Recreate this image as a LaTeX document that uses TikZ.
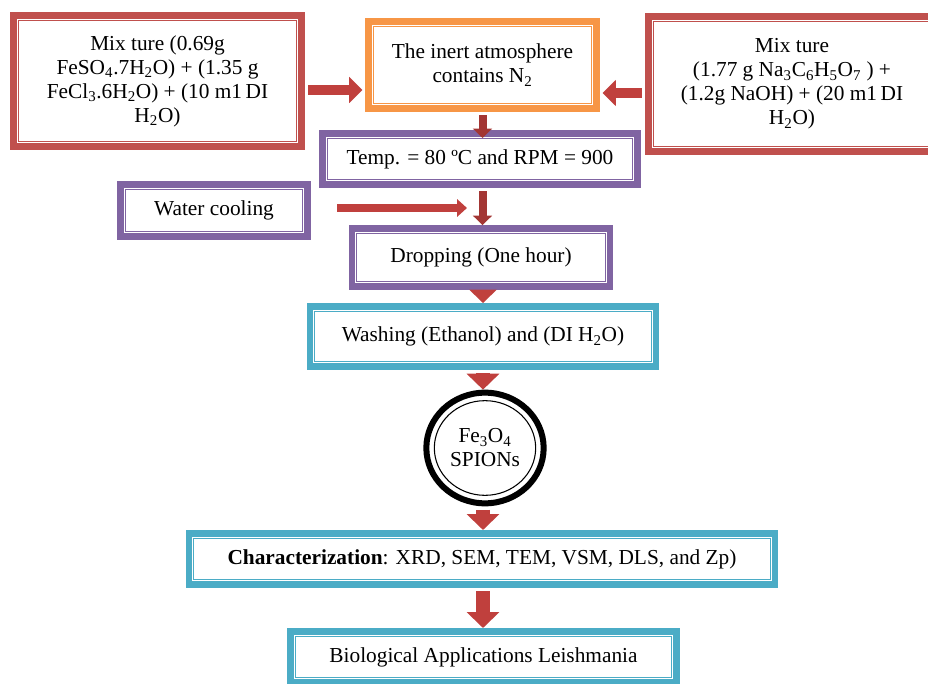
\documentclass[tikz,border=0pt]{standalone}
\usepackage{fontspec}
\setmainfont{Liberation Serif}
\usepackage{tikz}
\usetikzlibrary{
  shapes.geometric,
  arrows.meta,
  positioning,
  calc
}
\usepackage{xcolor}
\definecolor{boxred}{HTML}{C0504D}
\definecolor{boxorange}{HTML}{F79646}
\definecolor{boxpurple}{HTML}{8064A2}
\definecolor{boxblue}{HTML}{4BACC6}
\definecolor{arrowred}{HTML}{C0403D}
\newcommand{\chsub}[1]{\textsubscript{#1}}

\begin{document}
\begin{tikzpicture}[
    x=0.75pt, y=-0.75pt,
    font=\fontsize{16}{18}\selectfont,
    panel/.style={rectangle, draw=#1, line width=5pt, fill=white, align=center,
                  inner sep=2pt,
                  path picture={\draw[#1, line width=0.8pt]
                    ([shift={(3.6pt,-3.6pt)}]path picture bounding box.north west) rectangle
                    ([shift={(-3.6pt,3.6pt)}]path picture bounding box.south east);}},
    ring/.style={ellipse, draw=black, line width=4.5pt, fill=white, align=center,
                 inner sep=0pt, minimum width=88pt, minimum height=83pt,
                 path picture={\draw[black, line width=0.8pt]
                    (path picture bounding box.center) ellipse [x radius=38pt, y radius=35.5pt];}},
    side/.style={draw=arrowred, line width=7.5pt, -{Triangle[width=19pt, length=10pt]},
                 shorten <=2.5pt, shorten >=2pt},
    cool/.style={draw=arrowred, line width=6pt, -{Triangle[width=13pt, length=7.5pt]}},
    thin/.style={draw=arrowred!85!black, line width=6pt, -{Triangle[width=14pt, length=7pt]},
                 shorten <=2.5pt},
    mid/.style={draw=arrowred, line width=9pt, -{Triangle[width=20pt, length=10pt]},
                shorten <=2.5pt},
    big/.style={draw=arrowred, line width=11pt, -{Triangle[width=24pt, length=12pt]},
                shorten <=2.5pt},
  ]
    \useasboundingbox (0,0) rectangle (928,684);

    %% ── Top row: inputs ──────────────────────────────────────
    \node[panel=boxred, minimum width=216pt, minimum height=98.5pt] (mixL) at (157.5,81)
      {Mix ture (0.69g\\ FeSO\chsub{4}.7H\chsub{2}O) + (1.35 g\\
       FeCl\chsub{3}.6H\chsub{2}O) + (10 m1\,DI\\ H\chsub{2}O)};
    \node[panel=boxorange, minimum width=171pt, minimum height=65.5pt] (inert) at (482.5,65)
      {The inert atmosphere\\ contains N\chsub{2}};
    \node[panel=boxred, minimum width=215.5pt, minimum height=101.5pt] (mixR) at (792,84)
      {Mix ture\\ (1.77 g Na\chsub{3}C\chsub{6}H\chsub{5}O\chsub{7} ) +\\
       (1.2g NaOH) + (20 m1\,DI\\ H\chsub{2}O)};

    %% ── Synthesis steps ──────────────────────────────────────
    \node[panel=boxpurple, minimum width=236.5pt, minimum height=38.5pt] (temp) at (480,159)
      {Temp. = 80 ºC and RPM = 900};
    \node[panel=boxpurple, minimum width=140.5pt, minimum height=39.3pt] (water) at (214,210.5)
      {Water cooling};
    \node[panel=boxpurple, minimum width=193.7pt, minimum height=43.7pt] (drop) at (481,257.5)
      {Dropping (One hour)};
    \node[panel=boxblue, minimum width=259.7pt, minimum height=45.2pt] (wash) at (483,336.5)
      {Washing (Ethanol) and (DI H\chsub{2}O)};
    \node[ring] (spion) at (485,448) {Fe\chsub{3}O\chsub{4}\\ SPIONs};

    %% ── Analysis ─────────────────────────────────────────────
    \node[panel=boxblue, minimum width=439.7pt, minimum height=38.5pt] (char) at (482,559)
      {\textbf{Characterization}: XRD, SEM, TEM, VSM, DLS, and Zp)};
    \node[panel=boxblue, minimum width=289.7pt, minimum height=38.5pt] (bio) at (483.5,657)
      {Biological Applications Leishmania};

    \coordinate (coolA) at (337,208);
    \coordinate (coolB) at (467,208);

    %% ── Arrows ───────────────────────────────────────────────
    \draw[side] ([yshift=-6.75pt]mixL.east) -- ([yshift=-6.75pt]mixL.east -| inert.west);
    \draw[side] ([yshift=-6.75pt]mixR.west) -- ([yshift=-6.75pt]mixR.west -| inert.east);
    \draw[thin] (inert.south) -- ([yshift=-6pt]inert.south |- temp.north);
    \draw[cool] (coolA) -- (coolB);
    \draw[thin] (temp.south -| inert.south) -- (inert.south |- drop.north);
    \draw[mid] (drop.south -| wash.north) -- (wash.north);
    \draw[big] (wash.south) -- (wash.south |- spion.north);
    \draw[big] (spion.south -| wash.south) -- (wash.south |- char.north);
    \draw[big] (char.south -| wash.south) -- (wash.south |- bio.north);

  \end{tikzpicture}
\end{document}
